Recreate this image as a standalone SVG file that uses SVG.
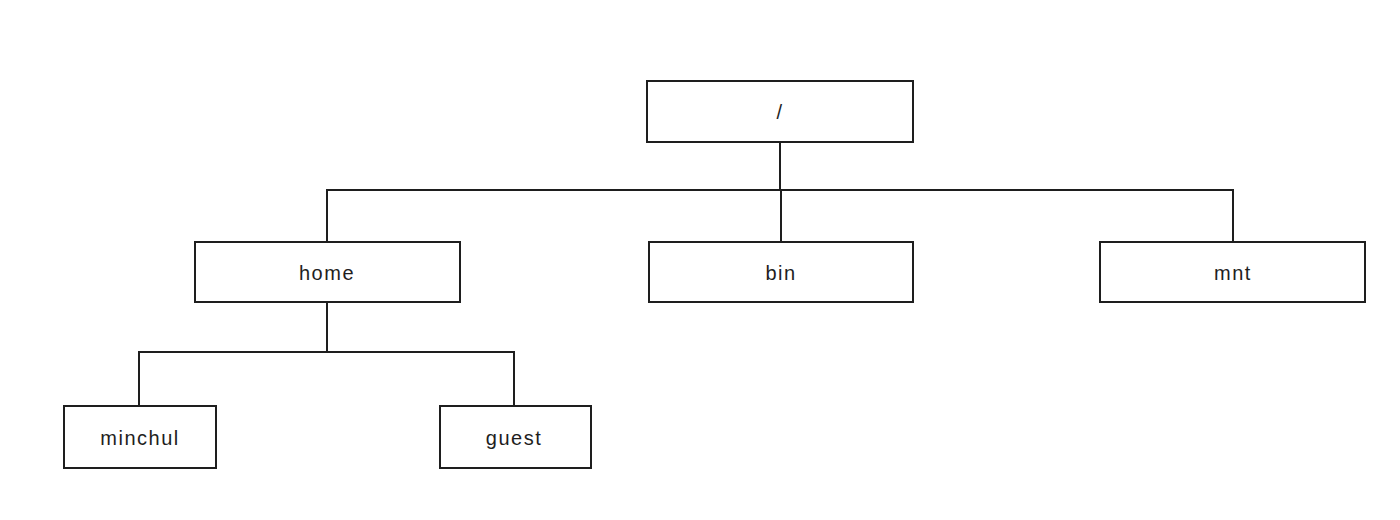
<svg xmlns="http://www.w3.org/2000/svg" width="1400" height="520" viewBox="0 0 1400 520">
<style>
.box{fill:#fff;stroke:#1e1e1e;stroke-width:2}
.ln{fill:none;stroke:#1e1e1e;stroke-width:2;stroke-linecap:round}
.t{font-family:"Liberation Sans","DejaVu Sans",sans-serif;font-size:20px;fill:#1e1e1e;text-anchor:middle;dominant-baseline:central;letter-spacing:1.5px}
</style>
<rect width="1400" height="520" fill="#fff"/>
<g id="connectors">
<path class="ln" d="M780 142 V190"/>
<path class="ln" d="M327 242 V190 H1233 V242"/>
<path class="ln" d="M781 190 V242"/>
<path class="ln" d="M327 302 V352"/>
<path class="ln" d="M139 405 V352 H514 V405"/>
</g>
<g id="root"><rect class="box" x="647" y="81" width="266" height="61"/><text class="t" x="780" y="112">/</text></g>
<g id="home"><rect class="box" x="195" y="242" width="265" height="60"/><text class="t" x="327" y="273">home</text></g>
<g id="bin"><rect class="box" x="649" y="242" width="264" height="60"/><text class="t" x="781" y="273">bin</text></g>
<g id="mnt"><rect class="box" x="1100" y="242" width="265" height="60"/><text class="t" x="1233" y="273">mnt</text></g>
<g id="minchul"><rect class="box" x="64" y="406" width="152" height="62"/><text class="t" x="140" y="438">minchul</text></g>
<g id="guest"><rect class="box" x="440" y="406" width="151" height="62"/><text class="t" x="514" y="438">guest</text></g>
</svg>
